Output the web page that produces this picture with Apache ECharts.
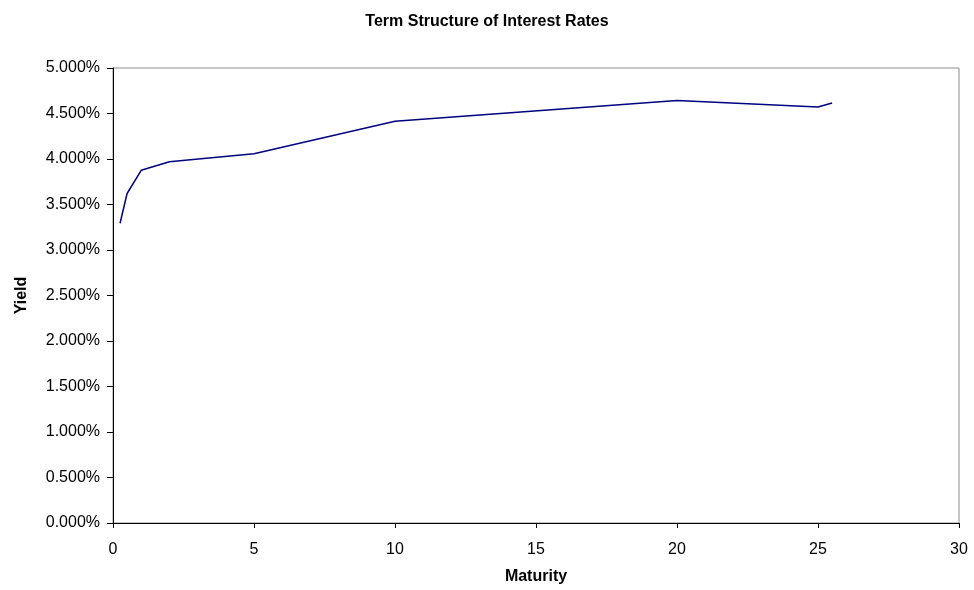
<!DOCTYPE html>
<html>
<head>
<meta charset="utf-8">
<title>Term Structure of Interest Rates</title>
<script src="https://cdn.jsdelivr.net/npm/echarts@6/dist/echarts.min.js"></script>
<style>
  html, body { margin: 0; padding: 0; background: #fff; }
  #chart { width: 974px; height: 590px; }
</style>
</head>
<body>
<div id="chart"></div>
<script>
// Maturity in years and the yield (in percent) at each maturity
const maturities = [0.25, 0.5, 1, 2, 5, 10, 20, 25, 25.5];
const yields = [3.294, 3.621, 3.876, 3.970, 4.058, 4.414, 4.643, 4.571, 4.615];

const FONT = '"Liberation Sans", Arial, Helvetica, sans-serif';

const chart = echarts.init(document.getElementById('chart'), null, { renderer: 'canvas' });

chart.setOption({
  animation: false,
  backgroundColor: '#ffffff',
  title: {
    text: 'Term Structure of Interest Rates',
    left: 'center',
    top: 9,
    textStyle: { fontFamily: FONT, fontSize: 16, fontWeight: 'bold', color: '#000' }
  },
  grid: {
    left: 113,
    right: 15,
    top: 68,
    bottom: 64,
    show: true,
    borderColor: '#8c8c8c',
    borderWidth: 1,
    backgroundColor: '#ffffff'
  },
  xAxis: {
    type: 'value',
    min: 0,
    max: 30,
    interval: 5,
    name: 'Maturity',
    nameLocation: 'middle',
    nameGap: 46,
    nameTextStyle: { fontFamily: FONT, fontSize: 16, fontWeight: 'bold', color: '#000' },
    axisLine: { show: true, onZero: false, lineStyle: { color: '#000', width: 1 } },
    axisTick: { show: true, length: 5, lineStyle: { color: '#000' } },
    axisLabel: { fontFamily: FONT, fontSize: 16, color: '#000', margin: 19 },
    splitLine: { show: false }
  },
  yAxis: {
    type: 'value',
    min: 0,
    max: 5,
    interval: 0.5,
    name: 'Yield',
    nameLocation: 'middle',
    nameGap: 83,
    nameRotate: 90,
    nameTextStyle: { fontFamily: FONT, fontSize: 16, fontWeight: 'bold', color: '#000' },
    axisLine: { show: true, onZero: false, lineStyle: { color: '#000', width: 1 } },
    axisTick: { show: true, length: 6, lineStyle: { color: '#000' } },
    axisLabel: {
      fontFamily: FONT, fontSize: 16, color: '#000', margin: 13,
      formatter: v => v.toFixed(3) + '%'
    },
    splitLine: { show: false }
  },
  series: [{
    type: 'line',
    data: maturities.map((m, i) => [m, yields[i]]),
    showSymbol: false,
    lineStyle: { color: '#000080', width: 1.5 },
    itemStyle: { color: '#000080' }
  }]
});
</script>
</body>
</html>
